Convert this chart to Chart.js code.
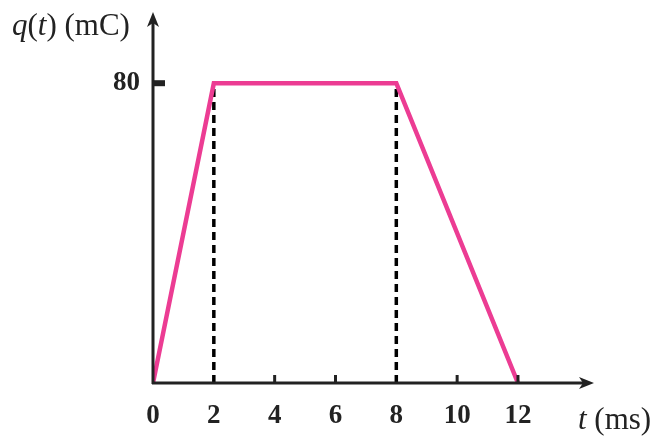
<!DOCTYPE html>
<html>
<head>
<meta charset="utf-8">
<script src="https://cdn.jsdelivr.net/npm/chart.js@4/dist/chart.umd.min.js"></script>
<style>
  html, body { margin: 0; padding: 0; background: #fff; }
  #wrap { width: 652px; height: 438px; position: relative; }
</style>
</head>
<body>
<div id="wrap"><canvas id="chart"></canvas></div>
<script>
// charge q(t) in mC vs time t in ms
const tValues = [0, 2, 8, 12];
const qValues = [0, 80, 80, 0];
const xTickValues = [0, 2, 4, 6, 8, 10, 12];
const yTickValues = [80];
const dashedAt = [2, 8];
const smallTicksAt = [4, 6, 10, 12];

const serif = "'Liberation Serif', 'DejaVu Serif', serif";
const ink = '#222';

const axesPlugin = {
    id: 'axesPlugin',
    afterDraw(chart) {
        const ctx = chart.ctx;
        const x = chart.scales.x;
        const y = chart.scales.y;
        const x0 = x.getPixelForValue(0);
        const y0 = y.getPixelForValue(0);
        const top = chart.chartArea.top;
        const right = chart.chartArea.right;

        ctx.save();
        ctx.strokeStyle = ink;
        ctx.fillStyle = ink;
        ctx.lineWidth = 3;

        // axis lines
        ctx.beginPath();
        ctx.moveTo(x0, y0 + 1);
        ctx.lineTo(x0, top + 10);
        ctx.moveTo(x0 - 1, y0);
        ctx.lineTo(right - 10, y0);
        ctx.stroke();

        // arrow heads
        ctx.beginPath();
        ctx.moveTo(x0, top);
        ctx.lineTo(x0 - 6, top + 15);
        ctx.lineTo(x0, top + 11);
        ctx.lineTo(x0 + 6, top + 15);
        ctx.closePath();
        ctx.fill();
        ctx.beginPath();
        ctx.moveTo(right, y0);
        ctx.lineTo(right - 15, y0 - 6);
        ctx.lineTo(right - 11, y0);
        ctx.lineTo(right - 15, y0 + 6);
        ctx.closePath();
        ctx.fill();

        // small tick marks
        ctx.lineWidth = 3;
        smallTicksAt.forEach(v => {
            const px = x.getPixelForValue(v);
            ctx.beginPath();
            ctx.moveTo(px, y0);
            ctx.lineTo(px, y0 - 8);
            ctx.stroke();
        });
        yTickValues.forEach(v => {
            const py = y.getPixelForValue(v);
            ctx.fillRect(x0, py - 3, 12, 6);
        });

        // axis titles
        ctx.textBaseline = 'alphabetic';
        ctx.textAlign = 'left';
        let cx = 12;
        const parts = [
            ['italic', 'q'], ['normal', '('], ['italic', 't'], ['normal', ') (mC)']
        ];
        parts.forEach(([st, s]) => {
            ctx.font = st + ' 31px ' + serif;
            ctx.fillText(s, cx, 35);
            cx += ctx.measureText(s).width;
        });
        cx = 578;
        [['italic', 't'], ['normal', ' (ms)']].forEach(([st, s]) => {
            ctx.font = st + ' 31px ' + serif;
            ctx.fillText(s, cx, 429);
            cx += ctx.measureText(s).width;
        });
        ctx.restore();
    }
};

const datasets = [{
    data: tValues.map((t, i) => ({ x: t, y: qValues[i] })),
    borderColor: '#ec3c93',
    borderWidth: 4.5,
    pointRadius: 0,
    tension: 0,
    order: 1
}];
dashedAt.forEach(t => {
    const i = tValues.indexOf(t);
    datasets.push({
        data: [{ x: t, y: 0 }, { x: t, y: qValues[i] }],
        borderColor: '#000',
        borderWidth: 3.5,
        borderDash: [8, 5],
        pointRadius: 0,
        order: 2
    });
});

new Chart(document.getElementById('chart'), {
    type: 'line',
    data: { datasets },
    plugins: [axesPlugin],
    options: {
        responsive: true,
        maintainAspectRatio: false,
        animation: false,
        layout: { padding: { top: 12, right: 58, left: 0, bottom: 0 } },
        plugins: { legend: { display: false }, tooltip: { enabled: false } },
        scales: {
            x: {
                type: 'linear',
                min: 0,
                max: 14.5,
                afterBuildTicks: s => { s.ticks = xTickValues.map(v => ({ value: v })); },
                afterFit: s => { s.height = 55; s.paddingLeft = 0; s.paddingRight = 0; },
                grid: { display: false, drawTicks: false },
                border: { display: false },
                ticks: {
                    color: ink,
                    padding: 17,
                    maxRotation: 0,
                    font: { family: serif, size: 27, weight: 'bold' }
                }
            },
            y: {
                min: 0,
                max: 99,
                afterBuildTicks: s => { s.ticks = yTickValues.map(v => ({ value: v })); },
                afterFit: s => { s.width = 153; s.paddingTop = 0; s.paddingBottom = 0; },
                grid: { display: false, drawTicks: false },
                border: { display: false },
                ticks: {
                    color: ink,
                    padding: 13,
                    font: { family: serif, size: 27, weight: 'bold' }
                }
            }
        }
    }
});
</script>
</body>
</html>
